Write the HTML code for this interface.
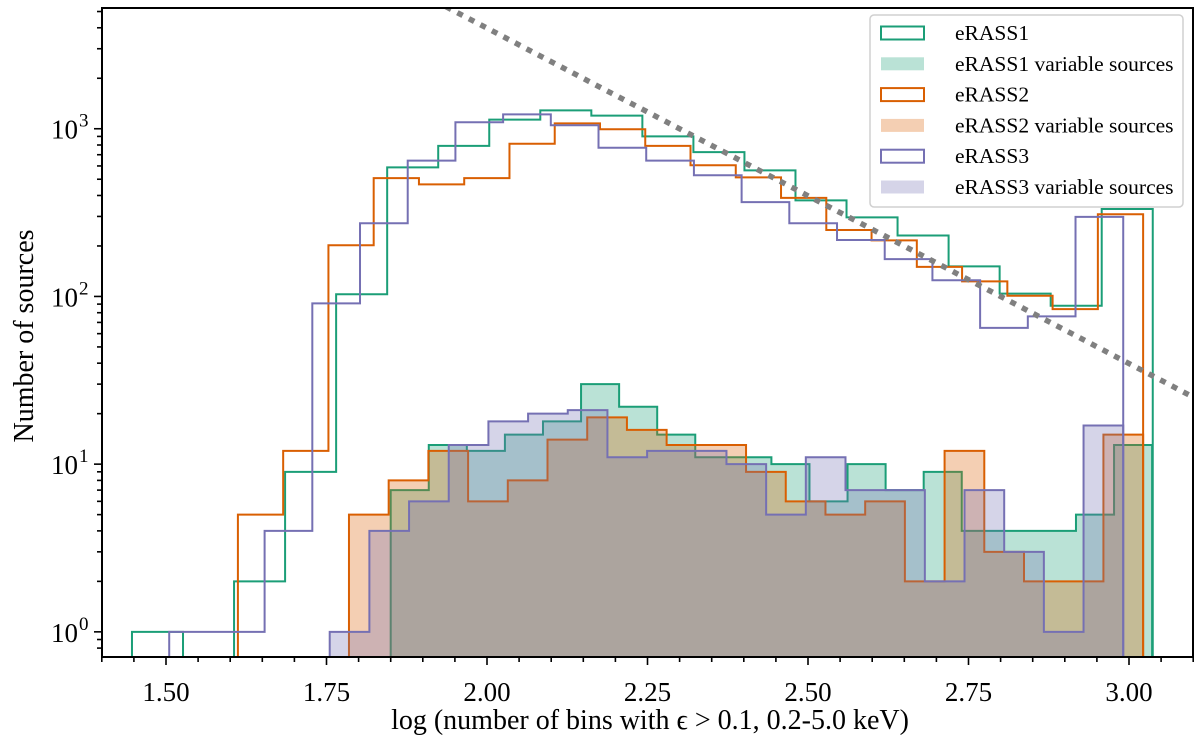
<!DOCTYPE html>
<html><head><meta charset="utf-8"><style>
html,body{margin:0;padding:0;background:#fff;}
svg{display:block;font-family:"Liberation Serif","DejaVu Serif",serif;}
</style></head><body>
<svg id="chart" width="1200" height="744" viewBox="0 0 1200 744" xmlns="http://www.w3.org/2000/svg">
<defs><clipPath id="plotclip"><rect x="102" y="8" width="1091" height="649"/></clipPath></defs>
<g id="plot" clip-path="url(#plotclip)"></g>
<g id="axes"></g>
<g id="legend"></g>
</svg>
<script>
// ---- data ----
const xTickLabels = ["1.50","1.75","2.00","2.25","2.50","2.75","3.00"];
const yTickExps = [0,1,2,3];
const seriesNames = ["eRASS1","eRASS1 variable sources","eRASS2","eRASS2 variable sources","eRASS3","eRASS3 variable sources"];
const e1Range = [1.447, 3.037];
const e1Counts = [1,0,2,9,103,588,790,1133,1286,1197,901,725,565,374,296,231,151,104,88,332];
const e1VarRange = [1.850, 3.036];
const e1VarCounts = [7,13,12,15,18,30,22,15,11,11,10,6,10,7,9,4,4,4,5,13];
const e2Range = [1.612, 3.022];
const e2Counts = [5,12,202,508,466,508,814,1077,993,790,606,513,387,249,216,150,123,101,84,309];
const e2VarRange = [1.785, 3.022];
const e2VarCounts = [5,8,12,6,8,14,19,16,13,13,9,6,5,6,2,12,3,2,2,15];
const e3Range = [1.505, 2.991];
const e3Counts = [1,1,4,91,273,645,1094,1218,1050,770,645,528,365,273,217,167,125,65,76,298];
const e3VarRange = [1.755, 2.991];
const e3VarCounts = [1,4,6,13,18,20,21,11,12,12,10,5,11,7,7,2,7,3,1,17];
const refLineX = [1.9, 3.12];
const refLineC = 7.60, refLineSlope = -2.0;

// ---- scales ----
const L=102,R=1193,T=8,B=657;
const X = v => 166 + (v-1.5)*642;
const YMINLOG = -0.15;
const Y = n => B - (Math.log10(Math.max(n,0.01)) - YMINLOG)*167.7;
const NS="http://www.w3.org/2000/svg";
function mk(tag, attrs, parent){const e=document.createElementNS(NS,tag);for(const k in attrs)e.setAttribute(k,attrs[k]);parent.appendChild(e);return e;}
const plot=document.getElementById('plot'), axes=document.getElementById('axes'), legend=document.getElementById('legend');

function stepPath(range, counts){
  const w=(range[1]-range[0])/counts.length;
  let d=`M${X(range[0])},${B+5}`;
  counts.forEach((c,i)=>{
    const y = c>0 ? Y(c) : B+5;
    d+=` L${X(range[0]+i*w)},${y} L${X(range[0]+(i+1)*w)},${y}`;
  });
  d+=` L${X(range[1])},${B+5}`;
  return d;
}
const colors={g:"#1b9e77",o:"#d95f02",p:"#7570b3"};
function drawHist(range,counts,color,filled,name){
  const d=stepPath(range,counts);
  if(filled){
    const f=mk('path',{d:d+' Z',fill:color,'fill-opacity':0.3,stroke:'none'},plot);
    
    
  }
  const s=mk('path',{d:d,fill:'none',stroke:color,'stroke-width':2,'stroke-linejoin':'miter'},plot);
  
  
}
drawHist(e1Range,e1Counts,colors.g,false,'erass1-histogram');
drawHist(e1VarRange,e1VarCounts,colors.g,true,'erass1-variable-histogram');
drawHist(e2Range,e2Counts,colors.o,false,'erass2-histogram');
drawHist(e2VarRange,e2VarCounts,colors.o,true,'erass2-variable-histogram');
drawHist(e3Range,e3Counts,colors.p,false,'erass3-histogram');
drawHist(e3VarRange,e3VarCounts,colors.p,true,'erass3-variable-histogram');

// reference dotted line
const rl=mk('line',{x1:X(refLineX[0]),y1:Y(Math.pow(10,refLineC+refLineSlope*refLineX[0])),x2:X(refLineX[1]),y2:Y(Math.pow(10,refLineC+refLineSlope*refLineX[1])),stroke:'#808080','stroke-width':5.5,'stroke-dasharray':'6 7'},plot);



// ---- axes ----
const frame=mk('rect',{x:L,y:T,width:R-L,height:B-T,fill:'none',stroke:'#000','stroke-width':2},axes);


for(let k=0;k<=34;k++){
  const v=1.40+k*0.05; const x=X(v);
  if(x<L-0.5||x>R+0.5) continue;
  const major = Math.abs((v-1.5)/0.25-Math.round((v-1.5)/0.25))<1e-6 && v>=1.49 && v<=3.01;
  mk('line',{x1:x,y1:B,x2:x,y2:B+(major?8:5),stroke:'#000','stroke-width':1.6},axes);
}
xTickLabels.forEach(t=>{
  const el=mk('text',{x:X(parseFloat(t)),y:701,'font-size':27,'text-anchor':'middle',fill:'#000'},axes);
  el.textContent=t;
  
  
});
for(let e=-1;e<=3;e++){
  for(let m=1;m<=9;m++){
    const n=m*Math.pow(10,e); const y=Y(n);
    if(y<T-0.5||y>B+0.5) continue;
    mk('line',{x1:L,y1:y,x2:L-(m===1?8:5),y2:y,stroke:'#000','stroke-width':1.6},axes);
  }
}
yTickExps.forEach(p=>{
  const el=mk('text',{x:78,y:Y(Math.pow(10,p))+10,'font-size':27,'text-anchor':'end',fill:'#000'},axes);
  el.textContent='10';
  
  
  const sup=mk('text',{x:79,y:Y(Math.pow(10,p))-2,'font-size':19,'text-anchor':'start',fill:'#000'},axes);
  sup.textContent=String(p);
  
  
});
const xl=mk('text',{x:650,y:729,'font-size':28,'text-anchor':'middle',fill:'#000'},axes);
xl.textContent='log (number of bins with \u03F5 > 0.1, 0.2-5.0 keV)';


const yl=mk('text',{x:0,y:0,'font-size':28,'text-anchor':'middle',fill:'#000',transform:'translate(33,336) rotate(-90)'},axes);
yl.textContent='Number of sources';



// ---- legend ----
const lb=mk('rect',{x:870,y:15,width:313,height:192,rx:4,fill:'#fff','fill-opacity':0.85,stroke:'#d0d0d0','stroke-width':1.5},legend);


const legColors=[colors.g,colors.g,colors.o,colors.o,colors.p,colors.p];
seriesNames.forEach((nm,i)=>{
  const cy=33+i*30.8;
  const filled = i%2===1;
  const r=mk('rect',{x:881,y:cy-6.5,width:43,height:13,fill:filled?legColors[i]:'none','fill-opacity':filled?0.3:1,stroke:filled?'none':legColors[i],'stroke-width':2},legend);
  
  
  const t=mk('text',{x:955,y:cy+7,'font-size':21.5,fill:'#000'},legend);
  t.textContent=nm;
  
  
});
</script>
</body></html>
